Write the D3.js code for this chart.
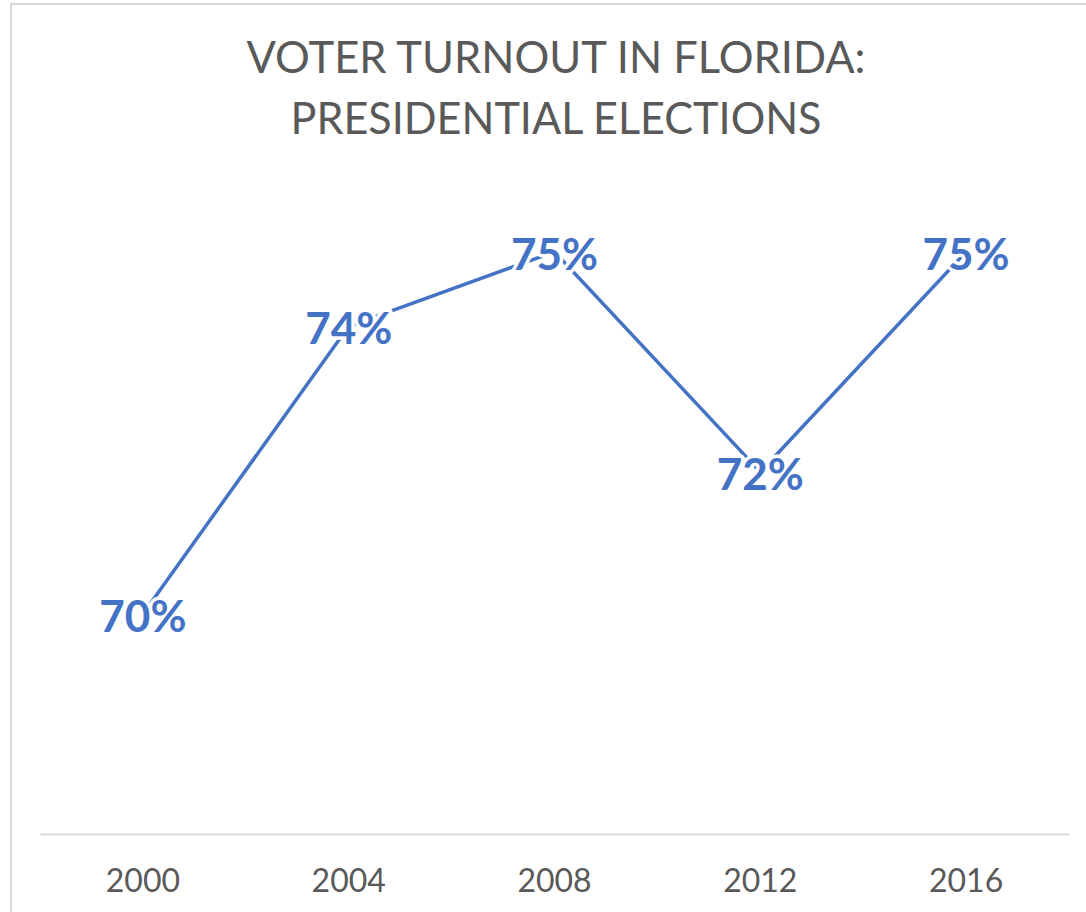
<!DOCTYPE html>
<html>
<head>
<meta charset="utf-8">
<script src="https://cdn.jsdelivr.net/npm/d3@7"></script>
<style>
  html, body { margin: 0; padding: 0; background: #ffffff; }
  svg { display: block; }
</style>
</head>
<body>
<div id="chart"></div>
<script>
// ---- data ----
const years = ["2000", "2004", "2008", "2012", "2016"];
const turnout = [0.701, 0.7415, 0.752, 0.721, 0.752];
const titleLines = ["VOTER TURNOUT IN FLORIDA:", "PRESIDENTIAL ELECTIONS"];
const yDomain = [0.67, 0.76];

// ---- layout ----
const W = 1086, H = 912;
const plot = { left: 40, right: 1069, top: 195, bottom: 834 };

const svg = d3.select("#chart").append("svg")
  .attr("width", W).attr("height", H);

svg.append("rect").attr("width", W).attr("height", H).attr("fill", "#fff");

// chart frame (extends past the right/bottom edges)
svg.append("rect")
  .attr("x", 11).attr("y", 4)
  .attr("width", W + 40).attr("height", H + 40)
  .attr("fill", "none")
  .attr("stroke", "#d9d9d9")
  .attr("stroke-width", 2);

// title
const title = svg.append("g");
const titleTargets = [619, 531];
titleLines.forEach((t, i) => {
  const txt = title.append("text")
    .attr("x", 556)
    .attr("y", 73 + i * 61)
    .attr("text-anchor", "middle")
    .attr("font-family", "Lato, 'Open Sans', sans-serif")
    .attr("font-size", 44)
    .attr("fill", "#595959")
    .text(t);
  const len = txt.node().getComputedTextLength();
  if (Math.abs(len - titleTargets[i]) > 4) {
    txt.attr("textLength", titleTargets[i]).attr("lengthAdjust", "spacingAndGlyphs");
  }
});

// scales
const x = d3.scaleBand().domain(years).range([plot.left, plot.right]).padding(0);
const y = d3.scaleLinear().domain(yDomain).range([plot.bottom, plot.top]);
const cx = d => x(d) + x.bandwidth() / 2;

// x axis
const xAxis = d3.axisBottom(x).tickSize(0).tickPadding(0);
const ax = svg.append("g")
  .attr("transform", `translate(0,${plot.bottom})`)
  .call(xAxis);
ax.select(".domain").attr("stroke", "#d9d9d9").attr("stroke-width", 2);
ax.selectAll(".tick text")
  .attr("dy", null)
  .attr("y", 58)
  .attr("font-family", "Lato, 'Open Sans', sans-serif")
  .attr("font-size", 32)
  .attr("fill", "#595959");

// line
const data = years.map((yr, i) => ({ yr, v: turnout[i] }));
const line = d3.line().x(d => cx(d.yr)).y(d => y(d.v));
svg.append("path")
  .datum(data)
  .attr("d", line)
  .attr("fill", "none")
  .attr("stroke", "#4472C4")
  .attr("stroke-width", 3.5)
  .attr("stroke-linejoin", "round");

// data labels
const fmt = d3.format(".0%");
svg.append("g").selectAll("text")
  .data(data)
  .join("text")
  .attr("x", d => cx(d.yr))
  .attr("y", d => y(d.v) + 18)
  .attr("text-anchor", "middle")
  .attr("font-family", "Lato, 'Open Sans', sans-serif")
  .attr("font-weight", "bold")
  .attr("font-size", 44)
  .attr("fill", "#4472C4")
  .attr("stroke", "#ffffff")
  .attr("stroke-width", 7)
  .attr("stroke-linejoin", "round")
  .attr("paint-order", "stroke")
  .text(d => fmt(d.v));
</script>
</body>
</html>
